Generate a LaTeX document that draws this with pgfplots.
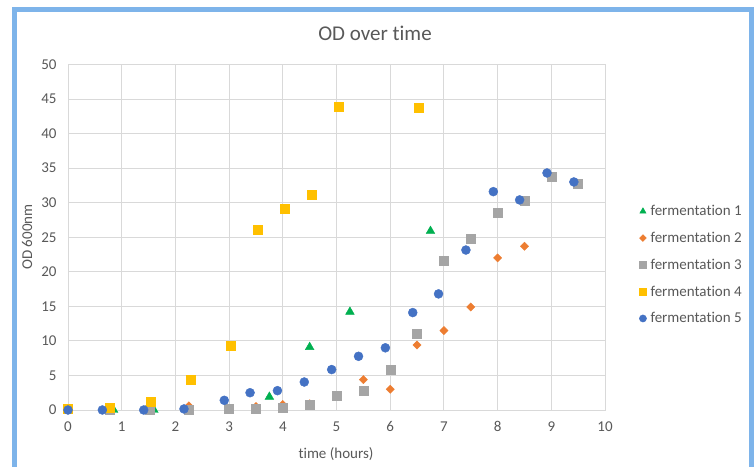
\documentclass[border=0pt]{standalone}
\usepackage{fontspec}
\setmainfont{Carlito}[Ligatures=NoCommon]
\usepackage{pgfplots}
\pgfplotsset{compat=1.18}

\definecolor{frameblue}{HTML}{7EB4EA}
\definecolor{gridgray}{HTML}{D9D9D9}
\definecolor{txtgray}{HTML}{595959}
\definecolor{fgreen}{HTML}{00B050}
\definecolor{forange}{HTML}{ED7D31}
\definecolor{fgray}{HTML}{A5A5A5}
\definecolor{fyellow}{HTML}{FFC000}
\definecolor{fblue}{HTML}{4472C4}

\begin{document}
\begin{tikzpicture}[x=1bp,y=1bp]
\path[use as bounding box] (0,0) rectangle (755,467);
\fill[white] (0,0) rectangle (755,467);
% chart frame
\draw[frameblue,line width=5bp] (14,-5) -- (14,457.5) -- (751.5,457.5) -- (751.5,-5);

\begin{axis}[
  at={(68bp,57bp)}, anchor=south west,
  scale only axis,
  width=537bp, height=345.5bp,
  xmin=0, xmax=10, ymin=0, ymax=50,
  xtick={0,1,...,10}, ytick={0,5,...,50},
  major tick length=0pt,
  grid=major,
  major grid style={gridgray, line width=0.9bp},
  axis line style={gridgray, line width=0.9bp},
  tick label style={font=\fontsize{15bp}{18bp}\selectfont, text=txtgray},
  /pgf/number format/assume math mode=true,
  xticklabel style={yshift=-8bp},
  yticklabel style={xshift=-8bp},
  legend style={
    at={(1.058,0.42)}, anchor=west, draw=none, fill=none,
    font=\fontsize{15bp}{18bp}\selectfont, text=txtgray,
    row sep=11bp,
    /tikz/every odd column/.append style={column sep=2bp},
    /tikz/every even column/.append style={column sep=1bp},
  },
  legend image code/.code={\draw[mark size=3.6bp] plot coordinates {(0bp,0bp)};},
  legend cell align=left,
  clip=false,
]
\addplot[only marks, mark=triangle*, mark size=5bp, color=fgreen] coordinates {
  (0.85,0) (1.6,0) (3.75,1.9) (4.5,9.1) (5.25,14.2) (6.75,25.9)
};
\addlegendentry{fermentation 1}
\addplot[only marks, mark=square*, mark size=2.9bp, mark options={rotate=45}, color=forange,
  legend image code/.code={\draw[mark size=2.4bp] plot coordinates {(0bp,0bp)};}] coordinates {
  (0,0) (0.75,0) (1.5,0) (2.25,0.6) (3.5,0.5) (4,0.8) (4.5,0.9) (5,2.0)
  (5.5,4.4) (6,3.0) (6.5,9.4) (7,11.5) (7.5,14.9) (8,22.0) (8.5,23.7)
};
\addlegendentry{fermentation 2}
\addplot[only marks, mark=square*, mark size=4.5bp, color=fgray] coordinates {
  (0.78,0) (1.52,0) (2.25,0.1) (3,0.15) (3.5,0.15) (4,0.35) (4.5,0.7)
  (5,2.0) (5.5,2.8) (6,5.9) (6.5,11.1) (7,21.6) (7.5,24.8) (8,28.5)
  (8.5,30.3) (9,33.7) (9.5,32.8)
};
\addlegendentry{fermentation 3}
\addplot[only marks, mark=square*, mark size=4.5bp, color=fyellow] coordinates {
  (0,0.2) (0.78,0.4) (1.54,1.2) (2.29,4.4) (3.03,9.3) (3.53,26.1)
  (4.03,29.2) (4.54,31.1) (5.04,43.9) (6.53,43.7)
};
\addlegendentry{fermentation 4}
\addplot[only marks, mark=*, mark size=4.5bp, color=fblue] coordinates {
  (0,0) (0.64,0) (1.41,0) (2.16,0.15) (2.91,1.4) (3.39,2.5) (3.9,2.8)
  (4.4,4.05) (4.91,5.85) (5.41,7.77) (5.91,9.0) (6.42,14.1) (6.9,16.8)
  (7.41,23.15) (7.92,31.6) (8.41,30.4) (8.92,34.3) (9.42,33.0)
};
\addlegendentry{fermentation 5}
\end{axis}

\node[text=txtgray, font=\fontsize{21bp}{25bp}\selectfont] at (375,434) {OD over time};
\node[text=txtgray, font=\fontsize{15bp}{18bp}\selectfont, rotate=90] at (27,230) {OD 600nm};
\node[text=txtgray, font=\fontsize{15bp}{18bp}\selectfont] at (336,13) {time (hours)};
\end{tikzpicture}
\end{document}
